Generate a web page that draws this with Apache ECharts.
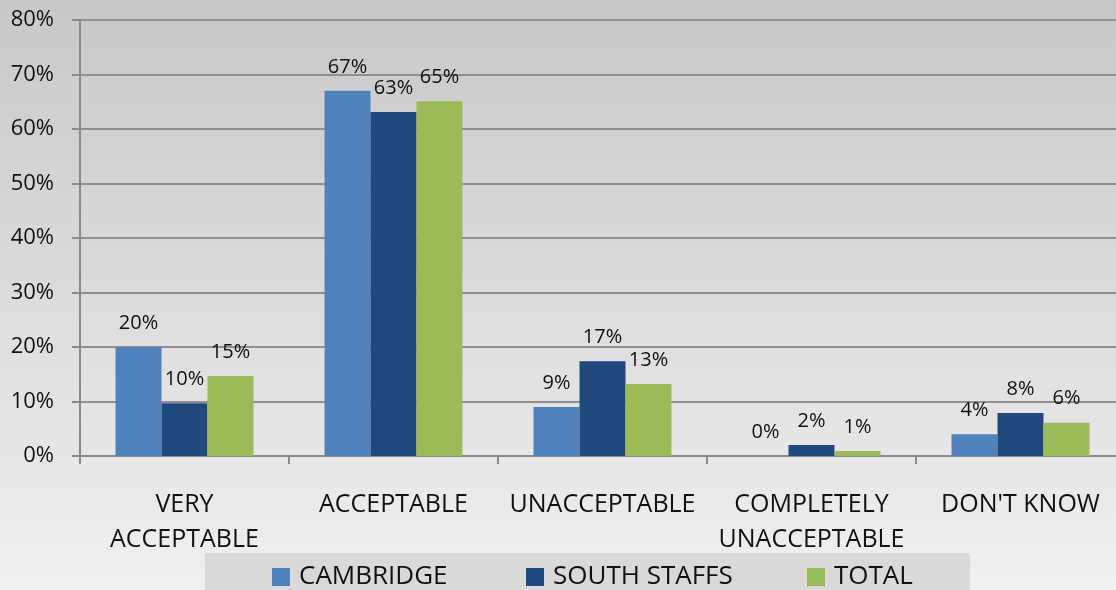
<!DOCTYPE html>
<html>
<head>
<meta charset="utf-8">
<script src="https://cdn.jsdelivr.net/npm/echarts@6/dist/echarts.min.js"></script>
<style>
  html, body { margin: 0; padding: 0; overflow: hidden; }
  #chart { width: 1125px; height: 590px; }
</style>
</head>
<body>
<div id="chart"></div>
<script>
const categories = ['VERY\nACCEPTABLE', 'ACCEPTABLE', 'UNACCEPTABLE', 'COMPLETELY\nUNACCEPTABLE', "DON'T KNOW"]
const seriesNames = ['CAMBRIDGE', 'SOUTH STAFFS', 'TOTAL']
const cambridge = [20, 67, 9, 0, 4]
const southStaffs = [9.7, 63.1, 17.4, 2, 7.9]
const total = [14.7, 65.1, 13.2, 0.9, 6.1]
const yTicks = [0, 10, 20, 30, 40, 50, 60, 70, 80]

const font = '"Open Sans", sans-serif'
const colors = ['#4f81bd', '#1f497d', '#9bbb59']
const legendLeft = [272, 526, 807]

function barSeries(name, data, color) {
  return {
    name: name,
    type: 'bar',
    data: data,
    barGap: 0,
    barCategoryGap: '34%',
    itemStyle: { color: color },
    label: {
      show: true,
      position: 'top',
      distance: 14,
      fontFamily: font,
      fontSize: 20,
      color: '#111',
      formatter: p => Math.round(p.value) + '%'
    }
  }
}

const myChart = echarts.init(document.getElementById('chart'))
const option = {
  backgroundColor: new echarts.graphic.LinearGradient(0, 0, 0, 1, [
    { offset: 0, color: '#c8c8c8' },
    { offset: 1, color: '#f0f0f0' }
  ]),
  animation: false,
  graphic: [{
    type: 'rect',
    shape: { x: 205, y: 553, width: 765, height: 40 },
    style: { fill: '#d9d9d9' },
    z: 0
  }],
  // one legend per entry so each sits where the reference puts it
  legend: seriesNames.map((name, i) => ({
    left: legendLeft[i],
    top: 564,
    padding: 0,
    itemWidth: 18,
    itemHeight: 18,
    itemGap: 0,
    icon: 'rect',
    textStyle: { fontFamily: font, fontSize: 26, color: '#111', padding: [0, 0, 0, 4] },
    data: [name]
  })),
  grid: { left: 80, right: 0, top: 20, bottom: 134 },
  xAxis: {
    type: 'category',
    data: categories,
    axisLine: { lineStyle: { color: '#8a8a8a', width: 2 } },
    axisTick: { show: true, length: 8, lineStyle: { color: '#8a8a8a', width: 2 } },
    axisLabel: {
      margin: 31,
      fontFamily: font,
      fontSize: 25,
      lineHeight: 35,
      color: '#111',
      interval: 0
    }
  },
  yAxis: {
    type: 'value',
    min: yTicks[0],
    max: yTicks[yTicks.length - 1],
    interval: 10,
    axisLine: { show: true, lineStyle: { color: '#8a8a8a', width: 2 } },
    axisTick: { show: true, length: 8, lineStyle: { color: '#8a8a8a', width: 2 } },
    splitLine: { lineStyle: { color: '#8f8f8f', width: 2 } },
    axisLabel: {
      margin: 26,
      fontFamily: font,
      fontSize: 22,
      color: '#111',
      formatter: v => v + '%'
    }
  },
  series: [
    barSeries(seriesNames[0], cambridge, colors[0]),
    barSeries(seriesNames[1], southStaffs, colors[1]),
    barSeries(seriesNames[2], total, colors[2])
  ]
}
myChart.setOption(option)
</script>
</body>
</html>
